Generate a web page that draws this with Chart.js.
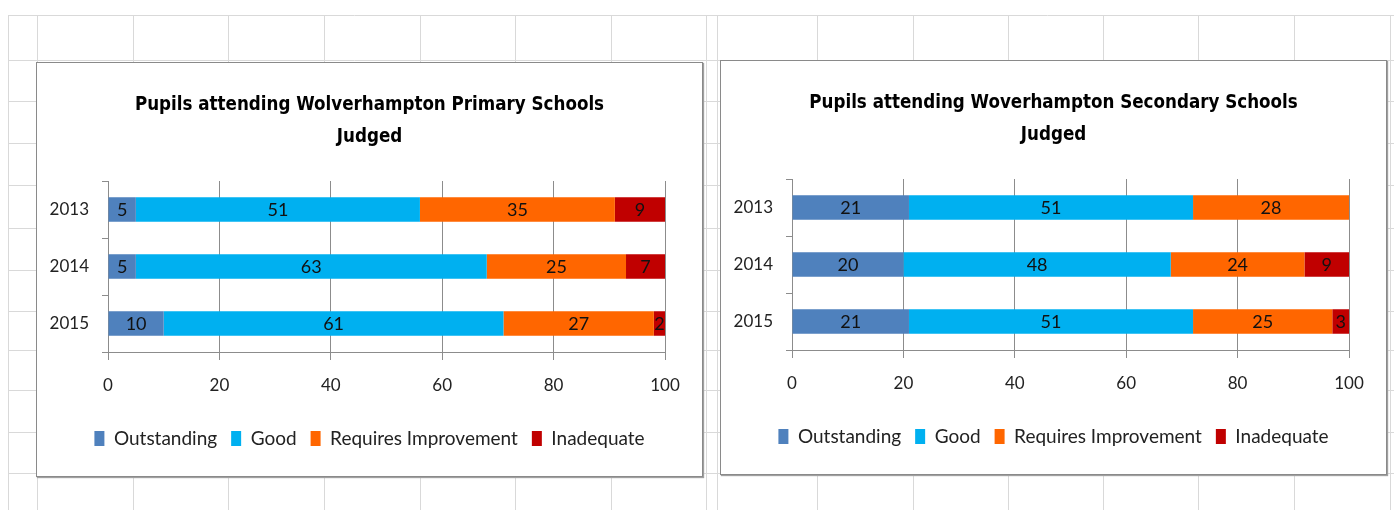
<!DOCTYPE html>
<html>
<head>
<meta charset="utf-8">
<title>Pupils attending Wolverhampton Schools Judged</title>
<script src="https://cdn.jsdelivr.net/npm/chart.js@4.4.0/dist/chart.umd.min.js"></script>
<style>
  html, body { margin: 0; padding: 0; background: #fff; }
  body { width: 1394px; height: 510px; position: relative; overflow: hidden; }
  #sheet { position: absolute; left: 0; top: 0; }
  .frame {
    position: absolute;
    background: #fff;
    border: 1px solid #8a8a8a;
    box-shadow: 1px 1px 1px #a0a0a0;
  }
  .frame canvas { display: block; }
</style>
</head>
<body>
<canvas id="sheet" width="1394" height="510"></canvas>
<div class="frame" style="left:36px;top:62px;width:665px;height:413px;">
  <canvas id="primaryChart" width="665" height="413"></canvas>
</div>
<div class="frame" style="left:720px;top:60px;width:665px;height:413px;">
  <canvas id="secondaryChart" width="665" height="413"></canvas>
</div>
<script>
// Chart data
var years = ['2013', '2014', '2015'];
var seriesNames = ['Outstanding', 'Good', 'Requires Improvement', 'Inadequate'];
var seriesColors = ['#4F81BD', '#00B0F0', '#FF6600', '#C00000'];

var primaryOutstanding = [5, 5, 10];
var primaryGood = [51, 63, 61];
var primaryRequiresImprovement = [35, 25, 27];
var primaryInadequate = [9, 7, 2];

var secondaryOutstanding = [21, 20, 21];
var secondaryGood = [51, 48, 51];
var secondaryRequiresImprovement = [28, 24, 25];
var secondaryInadequate = [0, 9, 3];

var xMin = 0;
var xMax = 100;
var xStep = 20;

var primaryTitle = ['Pupils attending Wolverhampton Primary Schools', 'Judged'];
var secondaryTitle = ['Pupils attending Woverhampton Secondary Schools', 'Judged'];

var baseFont = 'Lato, "Noto Sans", sans-serif';
var titleFont = '"DejaVu Sans Condensed", "Liberation Sans Narrow", "DejaVu Sans", sans-serif';
var gridColor = '#8c8c8c';

// Spreadsheet cell lines behind the charts
function drawSheet() {
    var c = document.getElementById('sheet');
    var ctx = c.getContext('2d');
    var rows = [15, 60, 101, 143, 185, 228, 270, 311, 350, 390, 432, 473];
    var cols = [8, 37, 133, 228, 324, 420, 515, 611, 706, 717, 817, 913, 1008, 1103, 1198, 1294, 1390];
    ctx.strokeStyle = '#d9d9d9';
    ctx.lineWidth = 1;
    rows.forEach(function(y) {
        ctx.beginPath();
        ctx.moveTo(8, y + 0.5);
        ctx.lineTo(1394, y + 0.5);
        ctx.stroke();
    });
    cols.forEach(function(x) {
        ctx.beginPath();
        ctx.moveTo(x + 0.5, 15);
        ctx.lineTo(x + 0.5, 510);
        ctx.stroke();
    });
}

// Value labels in the middle of each bar segment
var barValueLabels = {
    id: 'barValueLabels',
    afterDatasetsDraw: function(chart) {
        var ctx = chart.ctx;
        var area = chart.chartArea;
        ctx.save();
        ctx.font = '18px ' + baseFont;
        ctx.fillStyle = '#111';
        ctx.textAlign = 'center';
        ctx.textBaseline = 'middle';
        chart.data.datasets.forEach(function(ds, i) {
            var meta = chart.getDatasetMeta(i);
            meta.data.forEach(function(bar, j) {
                var v = ds.data[j];
                if (!v) return;
                var right = Math.min(bar.x, area.right);
                ctx.fillText(String(v), (bar.base + right) / 2, bar.y + 1);
            });
        });
        ctx.restore();
    }
};

function makeDatasets(values) {
    return values.map(function(data, i) {
        return {
            label: seriesNames[i],
            data: data,
            backgroundColor: seriesColors[i],
            borderWidth: 0,
            barPercentage: 0.43,
            categoryPercentage: 1
        };
    });
}

function renderChart(canvasId, title, values) {
    var ctx = document.getElementById(canvasId).getContext('2d');
    new Chart(ctx, {
        type: 'bar',
        data: {
            labels: years,
            datasets: makeDatasets(values)
        },
        options: {
            indexAxis: 'y',
            responsive: false,
            animation: false,
            layout: {
                padding: { left: 0, right: 0, top: 0, bottom: 18 }
            },
            scales: {
                x: {
                    stacked: true,
                    min: xMin,
                    max: xMax,
                    afterFit: function(scale) { scale.height = 63; },
                    ticks: {
                        stepSize: xStep,
                        padding: 15,
                        color: '#222',
                        font: { family: baseFont, size: 17 }
                    },
                    grid: {
                        color: gridColor,
                        tickLength: 8,
                        drawTicks: true
                    },
                    border: { color: gridColor }
                },
                y: {
                    stacked: true,
                    afterFit: function(scale) { scale.width = 71; },
                    ticks: {
                        padding: 13,
                        color: '#222',
                        font: { family: baseFont, size: 17 }
                    },
                    grid: {
                        offset: true,
                        drawOnChartArea: false,
                        tickLength: 6,
                        color: gridColor
                    },
                    border: { color: gridColor }
                },
                // empty axis on the right keeps the same margin as the left one,
                // so the title and legend stay centred in the frame
                yRight: {
                    axis: 'y',
                    type: 'category',
                    position: 'right',
                    afterFit: function(scale) { scale.width = 37; },
                    ticks: { display: false },
                    grid: { display: false },
                    border: { display: false }
                }
            },
            plugins: {
                title: {
                    display: true,
                    text: title,
                    color: '#000',
                    font: { family: titleFont, size: 18.6, weight: 'bold', lineHeight: '32px' },
                    padding: { top: 26, bottom: 28 }
                },
                legend: {
                    position: 'bottom',
                    labels: {
                        boxWidth: 10,
                        boxHeight: 15,
                        padding: 14,
                        color: '#222',
                        font: { family: baseFont, size: 19 }
                    }
                },
                tooltip: { enabled: false }
            }
        },
        plugins: [barValueLabels]
    });
}

document.addEventListener('DOMContentLoaded', function() {
    drawSheet();
    renderChart('primaryChart', primaryTitle,
        [primaryOutstanding, primaryGood, primaryRequiresImprovement, primaryInadequate]);
    renderChart('secondaryChart', secondaryTitle,
        [secondaryOutstanding, secondaryGood, secondaryRequiresImprovement, secondaryInadequate]);
});
</script>
</body>
</html>
